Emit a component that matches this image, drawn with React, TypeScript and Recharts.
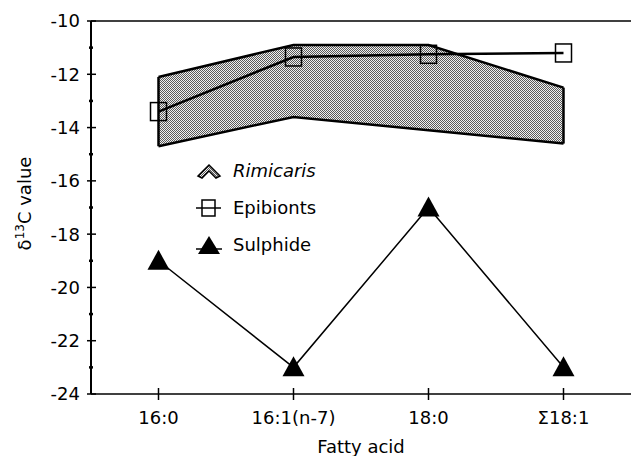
import { ComposedChart, Area, Line, XAxis, YAxis, ReferenceLine, Legend } from 'recharts'

const categories = ['16:0', '16:1(n-7)', '18:0', '\u03A318:1']
const rimicarisLow = [-14.7, -13.6, -14.1, -14.6]
const rimicarisHigh = [-12.1, -10.9, -10.9, -12.5]
const epibionts = [-13.4, -11.35, -11.25, -11.2]
const sulphide = [-19, -23, -17, -23]
const yTicks = [-24, -23, -22, -21, -20, -19, -18, -17, -16, -15, -14, -13, -12, -11, -10]
const seriesNames = ['Rimicaris', 'Epibionts', 'Sulphide']

const FONT = '"DejaVu Sans", sans-serif'

const data = categories.map((c, i) => ({
  acid: c,
  rimicaris: [rimicarisLow[i], rimicarisHigh[i]],
  epibionts: epibionts[i],
  sulphide: sulphide[i],
}))

function YTick({ x, y, payload }: any) {
  const v = payload.value as number
  const major = v % 2 === 0
  return (
    <g>
      <line x1={x - (major ? 4 : 2)} x2={x + (major ? 5 : 2)} y1={y} y2={y} stroke="#000" strokeWidth={major ? 1.5 : 2.5} />
      {major && (
        <text x={x - 11} y={y} dy="0.36em" textAnchor="end" fontFamily={FONT} fontSize={18} fill="#000">
          {v}
        </text>
      )}
    </g>
  )
}

function XTick({ x, y, payload }: any) {
  return (
    <g>
      <line x1={x} x2={x} y1={y - 6} y2={y + 6} stroke="#000" strokeWidth={1.5} />
      <text x={x} y={y + 30} textAnchor="middle" fontFamily={FONT} fontSize={18} fill="#000">
        {payload.value}
      </text>
    </g>
  )
}

function Square(p: any) {
  const { cx, cy, index } = p
  if (cx == null || cy == null) return <g key={index} />
  return <rect key={index} x={cx - 8} y={cy - 9} width={16} height={18} fill="none" stroke="#000" strokeWidth={1.5} />
}

function Triangle(p: any) {
  const { cx, cy, index } = p
  if (cx == null || cy == null) return <g key={index} />
  return <path key={index} d={`M${cx},${cy - 11} L${cx + 11},${cy + 9} L${cx - 11},${cy + 9} Z`} fill="#000" />
}

function LegendBox() {
  const rowStyle = { display: 'flex', alignItems: 'center', height: 37, fontFamily: FONT, fontSize: 18, color: '#000' }
  return (
    <div>
      <div style={rowStyle}>
        <svg width={38} height={20}>
          <path d="M3,15 L14,4 L25,15 L21,17 L14,10 L7,17 Z" fill="url(#stipple)" stroke="#000" strokeWidth={1.5} />
        </svg>
        <span style={{ fontStyle: 'italic' }}>{seriesNames[0]}</span>
      </div>
      <div style={rowStyle}>
        <svg width={38} height={22}>
          <line x1={1} x2={26} y1={11} y2={11} stroke="#000" strokeWidth={1.5} />
          <rect x={7} y={3} width={13} height={16} fill="none" stroke="#000" strokeWidth={1.5} />
        </svg>
        <span>{seriesNames[1]}</span>
      </div>
      <div style={rowStyle}>
        <svg width={38} height={22}>
          <line x1={1} x2={27} y1={15} y2={15} stroke="#000" strokeWidth={1.5} />
          <path d="M14,2 L25,20 L3,20 Z" fill="#000" />
        </svg>
        <span>{seriesNames[2]}</span>
      </div>
    </div>
  )
}

export default function App() {
  return (
    <div style={{ position: 'absolute', left: 0, top: 0, width: 631, height: 456, background: '#fff' }}>
      <ComposedChart width={631} height={456} data={data} margin={{ top: 21, right: 0, bottom: 0, left: 0 }}>
        <defs>
          <pattern id="stipple" width={2} height={2} patternUnits="userSpaceOnUse">
            <rect width={2} height={2} fill="#f0f0f0" />
            <rect width={1} height={1} fill="#5a5a5a" />
            <rect x={1} y={1} width={1} height={1} fill="#5a5a5a" />
          </pattern>
        </defs>
        <XAxis
          dataKey="acid"
          scale="band"
          height={62}
          tickSize={0}
          tickMargin={0}
          tick={<XTick />}
          axisLine={{ stroke: '#000', strokeWidth: 1.5 }}
          tickLine={false}
          label={{
            content: (props: any) => {
              const vb = props.viewBox
              return (
                <text x={vb.x + vb.width / 2} y={vb.y + 59} textAnchor="middle" fontFamily={FONT} fontSize={18} fill="#000">
                  Fatty acid
                </text>
              )
            },
          }}
        />
        <YAxis
          width={91}
          domain={[-24, -10]}
          ticks={yTicks}
          interval={0}
          tickSize={0}
          tickMargin={0}
          tick={<YTick />}
          tickLine={false}
          axisLine={{ stroke: '#000', strokeWidth: 2 }}
          label={{
            content: (props: any) => {
              const vb = props.viewBox
              const cx = vb.x + 25
              const cy = vb.y + vb.height / 2 - 4
              return (
                <text x={cx} y={cy} transform={`rotate(-90 ${cx} ${cy})`} textAnchor="middle" dy="0.36em" fontFamily={FONT} fontSize={18} fill="#000">
                  δ<tspan fontSize={12} dy={-7}>13</tspan>
                  <tspan dy={7}>C value</tspan>
                </text>
              )
            },
          }}
        />
        <ReferenceLine y={-10} stroke="#000" strokeWidth={1.5} />
        <Area
          dataKey="rimicaris"
          name={seriesNames[0]}
          type="linear"
          fill="url(#stipple)"
          fillOpacity={1}
          stroke="#000"
          strokeWidth={2.5}
          isAnimationActive={false}
        />
        <ReferenceLine
          segment={[
            { x: categories[0], y: rimicarisLow[0] },
            { x: categories[0], y: rimicarisHigh[0] },
          ]}
          stroke="#000"
          strokeWidth={2.5}
        />
        <ReferenceLine
          segment={[
            { x: categories[3], y: rimicarisLow[3] },
            { x: categories[3], y: rimicarisHigh[3] },
          ]}
          stroke="#000"
          strokeWidth={2.5}
        />
        <Line
          dataKey="epibionts"
          name={seriesNames[1]}
          type="linear"
          stroke="#000"
          strokeWidth={2.5}
          dot={Square}
          activeDot={false}
          isAnimationActive={false}
        />
        <Line
          dataKey="sulphide"
          name={seriesNames[2]}
          type="linear"
          stroke="#000"
          strokeWidth={1.5}
          dot={Triangle}
          activeDot={false}
          isAnimationActive={false}
        />
        <Legend
          layout="vertical"
          align="center"
          verticalAlign="middle"
          content={<LegendBox />}
          wrapperStyle={{ left: 195, top: 152, width: 170 }}
        />
      </ComposedChart>
    </div>
  )
}
